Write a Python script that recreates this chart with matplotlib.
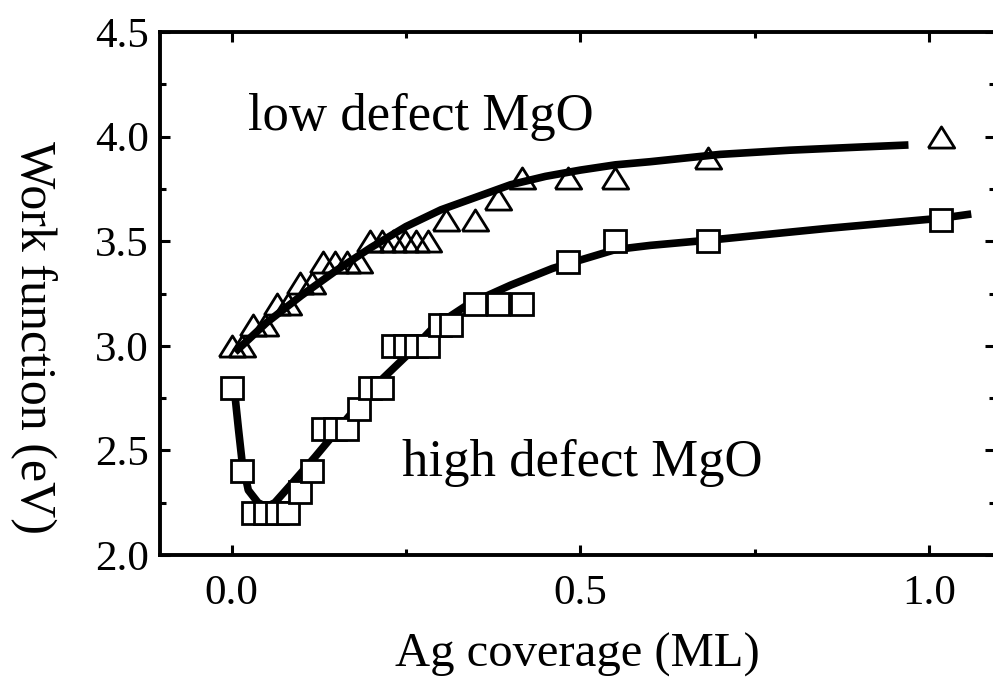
import matplotlib.pyplot as plt
from matplotlib.ticker import MultipleLocator

# Ag coverage (ML) values shared by both measurement series
low_x = [0.0, 0.015, 0.031, 0.048, 0.065, 0.081, 0.098, 0.115, 0.131, 0.148,
         0.165, 0.182, 0.198, 0.215, 0.232, 0.249, 0.265, 0.282, 0.307, 0.349,
         0.382, 0.416, 0.482, 0.549, 0.683, 1.017]
low_y = [3.0, 3.0, 3.1, 3.1, 3.2, 3.2, 3.3, 3.3, 3.4, 3.4,
         3.4, 3.4, 3.5, 3.5, 3.5, 3.5, 3.5, 3.5, 3.6, 3.6,
         3.7, 3.8, 3.8, 3.8, 3.9, 4.0]

high_x = [0.0, 0.015, 0.031, 0.048, 0.065, 0.081, 0.098, 0.115, 0.131, 0.148,
          0.165, 0.182, 0.198, 0.215, 0.232, 0.249, 0.265, 0.282, 0.299, 0.315,
          0.349, 0.382, 0.416, 0.482, 0.549, 0.683, 1.017]
high_y = [2.8, 2.4, 2.2, 2.2, 2.2, 2.2, 2.3, 2.4, 2.6, 2.6,
          2.6, 2.7, 2.8, 2.8, 3.0, 3.0, 3.0, 3.0, 3.1, 3.1,
          3.2, 3.2, 3.2, 3.4, 3.5, 3.5, 3.6]

# guide-to-the-eye curves
low_fit_x = [0.005, 0.05, 0.10, 0.15, 0.20, 0.25, 0.30, 0.35, 0.40, 0.45,
             0.50, 0.55, 0.60, 0.70, 0.80, 0.90, 0.97]
low_fit_y = [2.97, 3.11, 3.24, 3.36, 3.47, 3.57, 3.65, 3.71, 3.77, 3.81,
             3.84, 3.865, 3.88, 3.915, 3.935, 3.95, 3.96]

high_fit_x = [0.005, 0.010, 0.015, 0.024, 0.038, 0.050, 0.062, 0.086, 0.12, 0.15,
              0.20, 0.25, 0.29, 0.34, 0.40, 0.46, 0.55, 0.60, 0.70, 0.85,
              1.017, 1.06]
high_fit_y = [2.76, 2.60, 2.45, 2.31, 2.25, 2.23, 2.25, 2.34, 2.47, 2.59,
              2.79, 2.95, 3.09, 3.20, 3.29, 3.37, 3.46, 3.48, 3.51, 3.56,
              3.61, 3.63]

plt.rcParams['font.family'] = ['Liberation Serif', 'DejaVu Serif']

fig = plt.figure(figsize=(9.93, 6.93), dpi=100)
ax = fig.add_axes([160 / 993, 138 / 693, 835 / 993, 523 / 693])

# wide open triangle
tri = [(-1, -0.8), (1, -0.8), (0, 0.8), (-1, -0.8)]

ax.plot(low_fit_x, low_fit_y, color='black', lw=5.5, solid_capstyle='butt', zorder=3)
ax.plot(low_x, low_y, linestyle='none', marker=tri, markersize=19,
        markerfacecolor='none', markeredgecolor='black', markeredgewidth=2.0, zorder=2)

ax.plot(high_fit_x, high_fit_y, color='black', lw=5.5, solid_capstyle='butt', zorder=2)
ax.plot(high_x, high_y, linestyle='none', marker='s', markersize=15.5,
        markerfacecolor='white', markeredgecolor='black', markeredgewidth=2.0, zorder=3)

ax.text(0.024, 4.03, 'low defect MgO', fontsize=38)
ax.text(0.244, 2.38, 'high defect MgO', fontsize=38)

ax.set_xlim(-0.1025, 1.094)
ax.set_ylim(2.0, 4.5)
ax.xaxis.set_major_locator(MultipleLocator(0.5))
ax.xaxis.set_minor_locator(MultipleLocator(0.25))
ax.yaxis.set_major_locator(MultipleLocator(0.5))
ax.yaxis.set_minor_locator(MultipleLocator(0.25))
ax.xaxis.set_major_formatter(lambda v, p: f'{v:.1f}')
ax.yaxis.set_major_formatter(lambda v, p: f'{v:.1f}')

ax.tick_params(which='both', direction='in', top=True, right=True, width=2.2)
ax.tick_params(which='major', length=7, labelsize=31)
ax.tick_params(which='minor', length=4)
ax.tick_params(axis='x', pad=14)
ax.tick_params(axis='y', pad=8)
for s in ax.spines.values():
    s.set_linewidth(2.8)

ax.set_xlabel('Ag coverage (ML)', fontsize=35, labelpad=14)
ax.set_ylabel('Work function (eV)', fontsize=36, rotation=-90, va='center')
ax.yaxis.set_label_coords(-127 / 835, 0.415)

fig.savefig('out.png', dpi=100)
